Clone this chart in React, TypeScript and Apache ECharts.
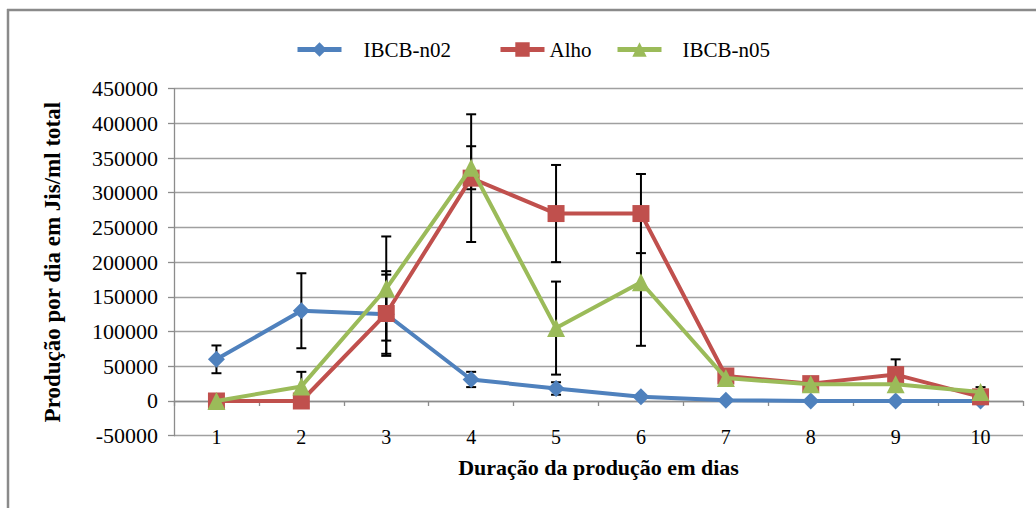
import React, { useEffect, useRef } from "react";
import * as echarts from "echarts";

const categories = ["1", "2", "3", "4", "5", "6", "7", "8", "9", "10"];
const seriesNames = ["IBCB-n02", "Alho", "IBCB-n05"];
const ibcbN02 = [60000, 130000, 125000, 31000, 18000, 6000, 1000, 0, 0, 0];
const alho = [0, 0, 126000, 321000, 270000, 270000, 36000, 25000, 38000, 6000];
const ibcbN05 = [0, 21000, 162000, 336000, 105000, 171000, 33000, 24000, 24000, 13000];
const errN02 = [20000, 54000, 57000, 11000, 9000, 0, 0, 0, 0, 0];
const errAlho = [0, 0, 61000, 92000, 70000, 57000, 0, 0, 22000, 0];
const errN05 = [0, 21000, 75000, 31000, 67000, 91500, 0, 0, 0, 7000];
const yMin = -50000;
const yMax = 450000;
const yStep = 50000;

const colors = ["#4F81BD", "#C0504D", "#9BBB59"];
const FONT = "Liberation Serif";

export default function App() {
  const ref = useRef<HTMLDivElement>(null);
  useEffect(() => {
    if (!ref.current) return;
    const chart = echarts.init(ref.current, null, { renderer: "svg" });

    const errData: number[][] = [];
    const groups = [
      [ibcbN02, errN02],
      [alho, errAlho],
      [ibcbN05, errN05],
    ];
    groups.forEach(([vals, errs]) => {
      vals.forEach((v, i) => {
        if (errs[i] > 0) errData.push([i, v - errs[i], v + errs[i]]);
      });
    });

    const legendBase = {
      orient: "horizontal",
      top: 34,
      itemWidth: 44,
      itemHeight: 18,
      lineStyle: { width: 5 },
      textStyle: { fontFamily: FONT, fontSize: 21, color: "#000" },
    };

    chart.setOption({
      animation: false,
      color: colors,
      textStyle: { fontFamily: FONT },
      grid: { left: 174, right: 13, top: 88.6, bottom: 72.3, containLabel: false },
      legend: [
        { ...legendBase, left: 290, data: [seriesNames[0]], textStyle: { ...legendBase.textStyle, padding: [0, 0, 0, 17] } },
        { ...legendBase, left: 493, data: [seriesNames[1]] },
        { ...legendBase, left: 610, data: [seriesNames[2]], textStyle: { ...legendBase.textStyle, padding: [0, 0, 0, 16] } },
      ],
      xAxis: [
        {
          type: "category",
          data: categories,
          boundaryGap: true,
          axisLine: { onZero: true, lineStyle: { color: "#8c8c8c", width: 1.3 } },
          axisTick: { show: true, alignWithLabel: false, length: 5, lineStyle: { color: "#8c8c8c", width: 1.3 } },
          axisLabel: { show: false },
          splitLine: { show: false },
        },
        {
          type: "category",
          data: categories,
          position: "bottom",
          boundaryGap: true,
          axisLine: { show: false, onZero: false },
          axisTick: { show: false },
          axisLabel: { margin: -9, fontFamily: FONT, fontSize: 20, color: "#000" },
          name: "Duração da produção em dias",
          nameLocation: "middle",
          nameGap: 21,
          nameTextStyle: { fontFamily: FONT, fontSize: 22, fontWeight: "bold", color: "#000" },
        },
      ],
      yAxis: {
        type: "value",
        min: yMin,
        max: yMax,
        interval: yStep,
        axisLine: { show: true, lineStyle: { color: "#8c8c8c", width: 1.3 } },
        axisTick: { show: true, length: 6, lineStyle: { color: "#8c8c8c", width: 1.3 } },
        axisLabel: {
          margin: 16,
          fontFamily: FONT,
          fontSize: 22,
          color: "#000",
          formatter: (v: number) => String(v),
        },
        splitLine: { show: true, lineStyle: { color: "#a0a0a0", width: 1.3 } },
        name: "Produção por dia em Jis/ml total",
        nameLocation: "middle",
        nameGap: 110,
        nameTextStyle: { fontFamily: FONT, fontSize: 23, fontWeight: "bold", color: "#000" },
      },
      graphic: [
        { type: "line", shape: { x1: 7, y1: 10, x2: 1036, y2: 10 }, style: { stroke: "#8a8a8a", lineWidth: 2.5 } },
        { type: "line", shape: { x1: 8, y1: 9, x2: 8, y2: 508 }, style: { stroke: "#8a8a8a", lineWidth: 2.5 } },
      ],
      series: [
        {
          type: "custom",
          name: "errors",
          xAxisIndex: 0,
          z: 1,
          data: errData,
          encode: { x: 0, y: [1, 2] },
          renderItem: (params: any, api: any) => {
            const x = api.value(0);
            const lo = api.coord([x, api.value(1)]);
            const hi = api.coord([x, api.value(2)]);
            const half = 5;
            const style = { stroke: "#000", lineWidth: 2 };
            return {
              type: "group",
              children: [
                { type: "line", shape: { x1: lo[0], y1: lo[1], x2: hi[0], y2: hi[1] }, style },
                { type: "line", shape: { x1: hi[0] - half, y1: hi[1], x2: hi[0] + half, y2: hi[1] }, style },
                { type: "line", shape: { x1: lo[0] - half, y1: lo[1], x2: lo[0] + half, y2: lo[1] }, style },
              ],
            };
          },
        },
        {
          type: "line",
          name: seriesNames[0],
          data: ibcbN02,
          xAxisIndex: 0,
          z: 3,
          symbol: "diamond",
          symbolSize: 17,
          lineStyle: { width: 4, color: colors[0] },
          itemStyle: { color: colors[0] },
        },
        {
          type: "line",
          name: seriesNames[1],
          data: alho,
          xAxisIndex: 0,
          z: 4,
          symbol: "rect",
          symbolSize: 17,
          lineStyle: { width: 4, color: colors[1] },
          itemStyle: { color: colors[1] },
        },
        {
          type: "line",
          name: seriesNames[2],
          data: ibcbN05,
          xAxisIndex: 0,
          z: 5,
          symbol: "triangle",
          symbolSize: 18,
          lineStyle: { width: 4, color: colors[2] },
          itemStyle: { color: colors[2] },
        },
      ],
    });
    return () => chart.dispose();
  }, []);
  return (
    <div
      ref={ref}
      style={{ position: "fixed", left: 0, top: 0, width: 1036, height: 508, background: "#fff" }}
    />
  );
}
